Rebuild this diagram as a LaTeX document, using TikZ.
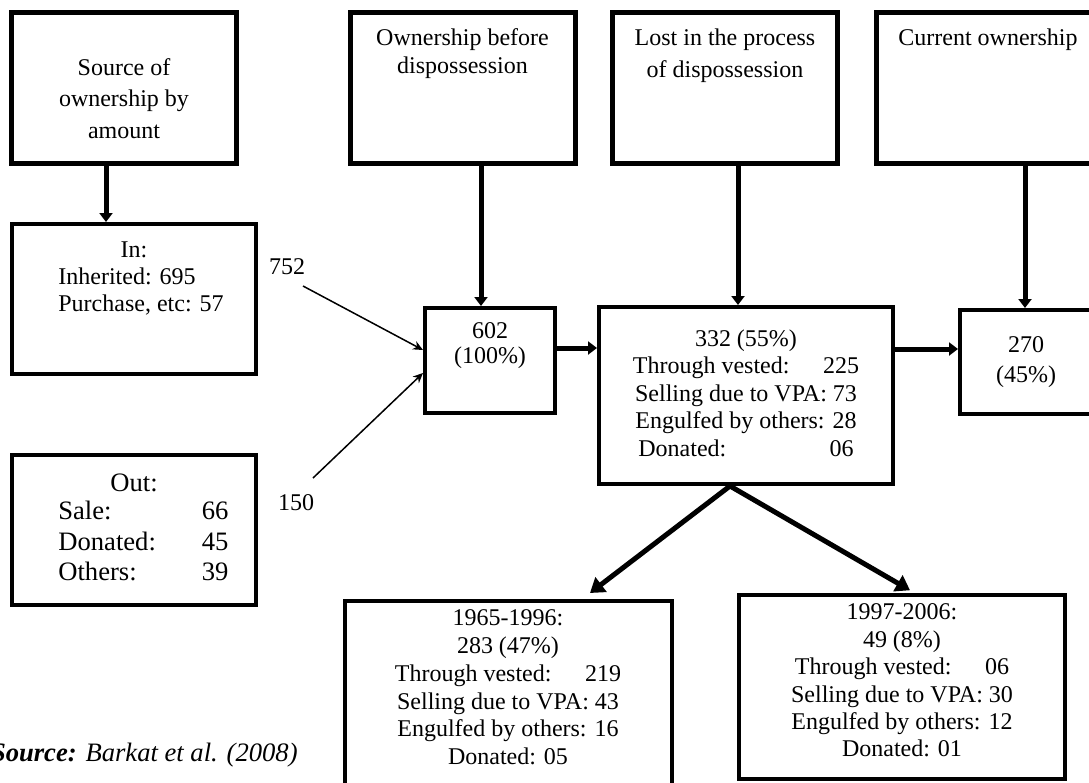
\documentclass[tikz,border=0pt]{standalone}
\usepackage{fontspec}
\setmainfont{Liberation Serif}
\usetikzlibrary{arrows.meta, calc, positioning}

\tikzset{
  hbox/.style={draw, line width=2.5pt, minimum width=112.5pt, minimum height=75.5pt, inner sep=0pt},
  dbox/.style={draw, line width=2pt, inner sep=0pt},
  txt/.style={inner sep=0pt, align=center},
  fat/.style={line width=2.5pt, -{Triangle[length=4.5pt,width=6.5pt]}},
  fatsplit/.style={line width=2.5pt, {Triangle[length=7pt,width=9pt]}-{Triangle[length=7pt,width=9pt]}},
  feed/.style={line width=0.75pt, -{Stealth[length=5pt,width=4.5pt]}},
}

\begin{document}
\begin{tikzpicture}[x=0.5pt,y=-0.5pt,font=\fontsize{12}{13.75}\selectfont]
\useasboundingbox (0,0) rectangle (1089,783);
\clip (0,0) rectangle (1089,783);

% ---- header boxes ----
\node[hbox] (hA)    at (124,88)   {};
\node[hbox] (hOwn)  at (462.5,88) {};
\node[hbox] (hLost) at (725,88)   {};
\node[hbox] (hCur)  at (988.5,88) {};

\node[txt, font=\fontsize{12}{15.75}\selectfont] (tA) at (124,98.5) {Source of\\ownership by\\amount};
\node[txt, font=\fontsize{12}{14}\selectfont] (tOwn) at (462.5,54) {Ownership before\\dispossession};
\node[txt, font=\fontsize{12}{16}\selectfont] (tLost) at (725,56) {Lost in the process\\of dispossession};
\node[txt] (tCur) at (988,40) {Current ownership};

% ---- in / out ----
\node[dbox, minimum width=122pt, minimum height=75pt] (bIn)  at (134,299) {};
\node[dbox, minimum width=122pt, minimum height=75pt] (bOut) at (134,530) {};

\node[txt] (tIn) at (134,250) {In:};
\node[txt, anchor=west, align=left] (tInList) at (58,291.5) {Inherited: 695\\Purchase, etc: 57};

\node[txt, font=\fontsize{13.3}{15.35}\selectfont] (tOut) at (134,483) {Out:};
\node[txt, anchor=west, font=\fontsize{13.3}{15.35}\selectfont] (tOutList) at (58,544)
  {\begin{tabular}{@{}l@{\hspace{1.73em}}r@{}}Sale: & 66\\Donated: & 45\\Others: & 39\end{tabular}};

% ---- amounts ----
\node[dbox, minimum width=65pt, minimum height=52.5pt] (b602) at (490,360.5) {};
\node[dbox, minimum width=147pt, minimum height=88.5pt] (b332) at (746,395.5) {};
\node[dbox, minimum width=67pt, minimum height=52pt] (b270) at (1027,362) {};

\node[txt, font=\fontsize{12}{12.5}\selectfont] (t602) at (490,345.5) {602\\(100\%)};
\node[txt, font=\fontsize{12}{15}\selectfont] (t270) at (1026,362) {270\\(45\%)};
\node[txt] (t332) at (746,393) {332 (55\%)\\Through vested:\hspace{1.4em}225\\Selling due to VPA: 73\\Engulfed by others: 28\\Donated:\hspace{4.3em}06};

% ---- periods ----
\node[dbox, minimum width=163.5pt, minimum height=109.5pt] (b1965) at (508.5,710.5) {};
\node[dbox, line width=1.75pt, minimum width=163pt, minimum height=92pt] (b1997) at (902,687) {};

\node[txt, font=\fontsize{12}{13.9}\selectfont] (t1965) at (508,687.5) {1965-1996:\\283 (47\%)\\Through vested:\hspace{1.4em}219\\Selling due to VPA: 43\\Engulfed by others: 16\\Donated: 05};
\node[txt, font=\fontsize{12}{13.7}\selectfont] (t1997) at (902,680.5) {1997-2006:\\49 (8\%)\\Through vested:\hspace{1.4em}06\\Selling due to VPA: 30\\Engulfed by others: 12\\Donated: 01};

% ---- down arrows ----
\coordinate (cA) at ([xshift=-9pt]hA.south);
\draw[fat] (cA) -- (cA |- bIn.north);
\coordinate (cOwn) at ([xshift=9.25pt]hOwn.south);
\draw[fat] (cOwn) -- (cOwn |- b602.north);
\coordinate (cLost) at ([xshift=6.5pt]hLost.south);
\draw[fat] (cLost) -- (cLost |- b332.north);
\coordinate (cCur) at ([xshift=18.25pt]hCur.south);
\draw[fat] (cCur) -- (cCur |- b270.north);

% ---- across ----
\coordinate (c602) at ([yshift=6.25pt]b602.east);
\draw[fat] (c602) -- (c602 -| b332.west);
\coordinate (c332) at ([yshift=23.25pt]b332.east);
\draw[fat] (c332) -- (c332 -| b270.west);

% split into the two periods
\coordinate (cSplit) at ([xshift=-8pt]b332.south);
\draw[fatsplit] ([shift={(40.75pt,3pt)}]b1965.north) -- (cSplit) -- ([shift={(4pt,1.5pt)}]b1997.north);

% ---- inflows ----
\node[txt] (n752) at (287,267) {752};
\node[txt] (n150) at (296,503) {150};
\coordinate (s752) at (303,286);
\draw[feed] (s752) -- ([yshift=5.25pt]b602.west);
\coordinate (s150) at (313,478);
\draw[feed] (s150) -- ([yshift=-6.25pt]b602.west);

% source
\node[txt, anchor=east, font=\fontsize{13.3}{16}\selectfont] (src) at (298,755)
  {\textbf{\textit{Source:}} \textit{Barkat et al. (2008)}};

\end{tikzpicture}
\end{document}
